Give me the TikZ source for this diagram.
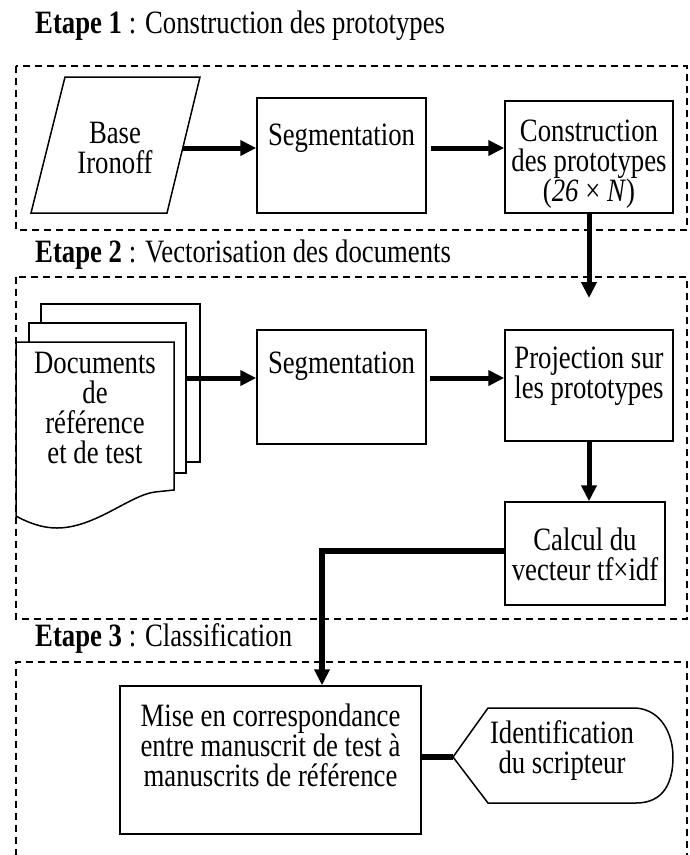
\documentclass[tikz,border=0pt]{standalone}
\usepackage{fontspec}
\setmainfont{Liberation Serif}[FakeStretch=0.82]
\usetikzlibrary{arrows.meta}
\newcommand\tstrut{\rule{0pt}{25pt}}
\begin{document}
\begin{tikzpicture}[x=1pt,y=-1pt,
  every node/.style={font=\fontsize{32.6}{30}\selectfont},
  frame/.style={draw=black, line width=1.3pt, dash pattern=on 7pt off 5pt},
  box/.style={draw=black, line width=1.5pt, fill=white, inner sep=0pt},
  txt/.style={align=center, inner sep=0pt, anchor=north},
  title/.style={anchor=base west, inner sep=0pt},
  arr/.style={line width=5pt, -{Triangle[length=16pt,width=15pt]}},
  conn/.style={line width=6pt}
]
\useasboundingbox (0,0) rectangle (689,855);

% titles
\node[title] (t1) at (35,33) {\textbf{Etape 1} : Construction des prototypes};
\node[title] (t2) at (35,262) {\textbf{Etape 2} : Vectorisation des documents};
\node[title] (t3) at (35,646) {\textbf{Etape 3} : Classification};

% dashed frames
\draw[frame] (16,66) rectangle (687,230);
\draw[frame] (16,277) rectangle (687,619);
\draw[frame] (16,856) -- (16,662) -- (687,662) -- (687,856);

% stage 1
\draw[box] (65,77) -- (200,77) -- (167,213) -- (31,213) -- cycle;
\node[txt] (base) at (115,118) {\tstrut Base\\Ironoff};
\coordinate (b1) at (183,148);

\node[box, minimum width=169pt, minimum height=115pt] (seg1) at (341.5,155.5) {};
\node[txt] (seg1t) at (341.5,120) {\tstrut Segmentation};

\node[box, minimum width=168pt, minimum height=112pt] (cons) at (589,157) {};
\node[txt] (const) at (589,116) {\tstrut Construction\\des prototypes\\(\textit{26} × \textit{N})};

\draw[arr] (b1) -- (b1 -| seg1.west);
\draw[arr] ([xshift=4pt]seg1.east |- b1) -- (cons.west |- b1);

\coordinate (p1) at (589,298);
\draw[arr] (cons.south) -- (p1);

% stage 2
\draw[box] (41,304) rectangle (200,462);
\node[box, minimum width=157pt, minimum height=150pt] (sheet2) at (107.5,398) {};
\draw[box] (16,342) -- (174,342) -- (174,490) -- (155,492)
  .. controls (130,495) and (95,528) .. (57,528)
  .. controls (40,528) and (25,521) .. (16,516) -- cycle;
\node[txt] (docs) at (95,348) {\tstrut Documents\\de\\référence\\et de test};
\coordinate (d1) at (186,378);

\node[box, minimum width=169pt, minimum height=114pt] (seg2) at (341.5,387) {};
\node[txt] (seg2t) at (341.5,348) {\tstrut Segmentation};

\node[box, minimum width=168pt, minimum height=111pt] (proj) at (589,385.5) {};
\node[txt] (projt) at (589,343) {\tstrut Projection sur\\les prototypes};

\draw[arr] (d1) -- (d1 -| seg2.west);
\draw[arr] ([xshift=3pt]seg2.east |- d1) -- (proj.west |- d1);

\node[box, minimum width=160pt, minimum height=103pt] (calc) at (585,553.5) {};
\node[txt] (calct) at (585,525) {\tstrut Calcul du\\vecteur tf×idf};

\draw[arr] (proj.south) -- (proj.south |- calc.north);

% stage 3
\node[box, minimum width=301pt, minimum height=148pt] (mise) at (270.5,760) {};
\node[txt] (miset) at (270.5,701) {\tstrut Mise en correspondance\\entre manuscrit de test à\\manuscrits de référence};

\coordinate (bend) at (322,551);
\draw[arr, line width=5.5pt] (calc.west |- bend) -- (bend) -- (bend |- mise.north);

\draw[box] (453,757) -- (488,708) -- (636,708)
  .. controls (662,710) and (673,735) .. (673,757)
  .. controls (673,782) and (664,803) .. (636,803) -- (488,803) -- cycle;
\coordinate (dispL) at (453,757);
\node[txt] (ident) at (562,718) {\tstrut Identification\\du scripteur};

\draw[conn] (mise.east |- dispL) -- (dispL);
\end{tikzpicture}
\end{document}
